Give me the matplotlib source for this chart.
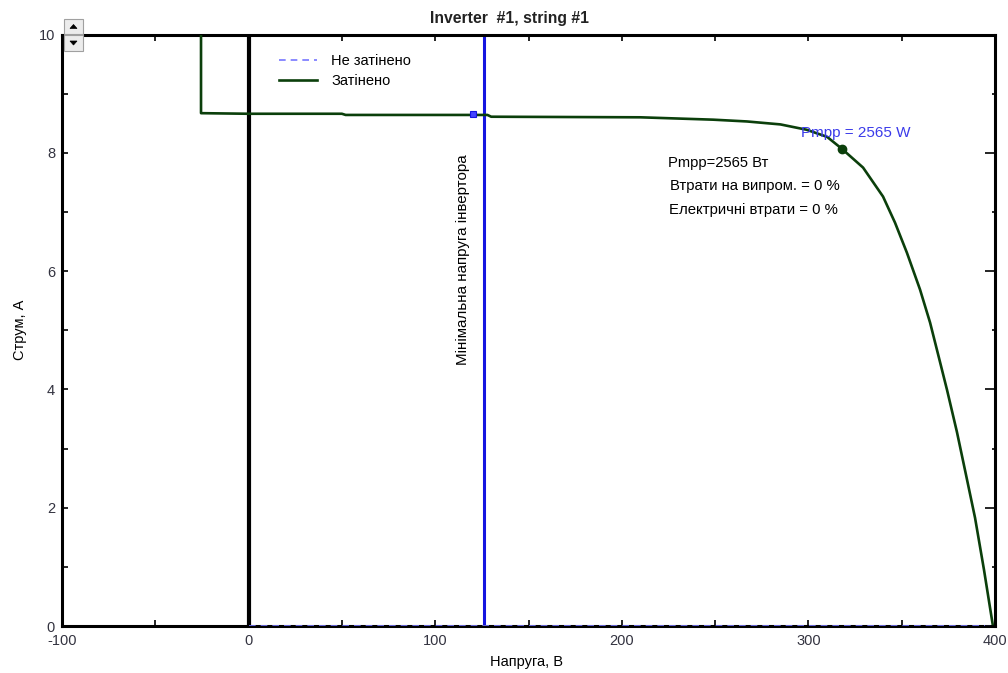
import matplotlib
matplotlib.use("Agg")
import matplotlib.pyplot as plt
from matplotlib.patches import Rectangle, Polygon
from matplotlib.ticker import MultipleLocator

plt.rcParams['font.family'] = ['Liberation Sans', 'DejaVu Sans']
plt.rcParams['axes.unicode_minus'] = False

# I-V curve of the shaded string
v_shaded = [-25.5, -25.5, 0, 50, 52, 128, 130, 210, 249, 267, 285, 299, 310,
            318, 329.3, 340, 346.4, 352.8, 359.8, 365.2, 370.0, 374.3, 379.6,
            384.5, 389.3, 394.1, 398.9]
i_shaded = [10.5, 8.67, 8.66, 8.66, 8.64, 8.64, 8.61, 8.60, 8.56, 8.53, 8.48, 8.39, 8.27,
            8.066, 7.75, 7.26, 6.82, 6.31, 5.69, 5.13, 4.53, 3.99, 3.28,
            2.55, 1.83, 0.95, 0.0]

# Unshaded curve (collapsed onto zero current)
v_unshaded = [0, 400]
i_unshaded = [0, 0]

# Maximum power point
p_mpp = 2565
v_mpp = 318
i_mpp = p_mpp / v_mpp

# Operating point at the inverter's minimum voltage
v_op = 120
i_op = 8.66
v_inv_min = 126

loss_mismatch = 0
loss_electric = 0

x_range = (-100, 400)
y_range = (0, 10)
x_ticks = [-100, 0, 100, 200, 300, 400]
y_ticks = [0, 2, 4, 6, 8, 10]

W, H = 1008, 673
fig = plt.figure(figsize=(W / 100, H / 100), dpi=100)
ax = fig.add_axes([62 / W, 1 - 626 / H, (995 - 62) / W, (626 - 34.5) / H])

green = '#0b3f0b'
blue = '#1515e0'
tick_col = '#333340'

ax.plot(v_unshaded, i_unshaded, color='#7777ff', lw=1.2, ls=(0, (4, 3)),
        label='Не затінено', zorder=4)
ax.plot(v_shaded, i_shaded, color=green, lw=1.9, label='Затінено', zorder=3)
ax.axvline(0, color='black', lw=3.0, zorder=2)
ax.axvline(v_inv_min, color=blue, lw=2.2, zorder=2)
ax.plot([v_op], [i_op], marker='s', ms=4, mfc='#4444ff', mec=blue, mew=0.8,
        ls='none', zorder=5)
ax.plot([v_mpp], [i_mpp], marker='o', ms=6, color=green, ls='none', zorder=5)

ax.set_xlim(*x_range)
ax.set_ylim(*y_range)
ax.set_xticks(x_ticks)
ax.set_yticks(y_ticks)
ax.xaxis.set_minor_locator(MultipleLocator(50))
ax.yaxis.set_minor_locator(MultipleLocator(1))
ax.tick_params(which='both', direction='in', top=True, right=False,
               labelsize=10.5, labelcolor=tick_col, width=1.2, color='black')
ax.tick_params(which='major', length=4)
ax.tick_params(which='minor', length=4)
ax.tick_params(axis='x', which='major', pad=6)
ax.tick_params(axis='y', which='major', pad=5)
for s in ax.spines.values():
    s.set_linewidth(2.2)

# Right-hand tick marks
ax2 = ax.twinx()
ax2.set_ylim(*y_range)
ax2.set_yticks(y_ticks)
ax2.yaxis.set_minor_locator(MultipleLocator(1))
ax2.tick_params(which='both', direction='in', labelright=False, width=1.2)
ax2.tick_params(which='major', length=7)
ax2.tick_params(which='minor', length=2.5)
for s in ax2.spines.values():
    s.set_visible(False)

ax.set_xlabel('Напруга, В', fontsize=10.5)
ax.xaxis.set_label_coords((527 - 62) / (995 - 62), -(655 - 626) / 591.5)
ax.set_ylabel('Струм, А', fontsize=10.5)
ax.yaxis.set_label_coords(-(62 - 27) / (995 - 62), (626 - 330) / 591.5)
fig.text(509 / W, 1 - 18 / H, 'Inverter  #1, string #1', ha='center', va='center',
         fontsize=11.3, fontweight='bold', color='#222222')

leg = ax.legend(loc='upper left',
                bbox_to_anchor=((273 - 62) / (995 - 62), 1 - (48 - 34.5) / 591.5),
                frameon=False, fontsize=10.5, handlelength=2.6, handletextpad=1.0,
                labelspacing=0.45, borderaxespad=0)

ax.text(v_mpp - 22, i_mpp + 0.27, f'Pmpp = {p_mpp} W', color='#3b3bea', fontsize=11,
        ha='left', va='center', zorder=6)
ax.text(0.650, (626 - 163) / 591.5, f'Pmpp={p_mpp} Вт', transform=ax.transAxes,
        fontsize=10.6, ha='left', va='center')
ax.text(0.652, (626 - 186) / 591.5, f'Втрати на випром. = {loss_mismatch} %',
        transform=ax.transAxes, fontsize=10.7, ha='left', va='center')
ax.text(0.651, (626 - 210) / 591.5, f'Електричні втрати = {loss_electric} %',
        transform=ax.transAxes, fontsize=10.7, ha='left', va='center')
ax.text(v_inv_min - 11, 6.2, 'Мінімальна напруга інвертора', rotation=90,
        fontsize=10.9, ha='center', va='center')

# Spin buttons in the top-left corner
def px(x, y):
    return (x / W, 1 - y / H)

for (y0, y1, up) in [(19, 34, True), (35, 51, False)]:
    x0, x1 = 64, 83
    fig.add_artist(Rectangle(px(x0, y1), (x1 - x0) / W, (y1 - y0) / H,
                             transform=fig.transFigure, facecolor='#ececec',
                             edgecolor='#a0a0a0', lw=0.8, zorder=10))
    cx, cy = (x0 + x1) / 2, (y0 + y1) / 2
    if up:
        tri = [px(cx - 3.5, cy + 2), px(cx + 3.5, cy + 2), px(cx, cy - 2)]
    else:
        tri = [px(cx - 3.5, cy - 2), px(cx + 3.5, cy - 2), px(cx, cy + 2)]
    fig.add_artist(Polygon(tri, closed=True, transform=fig.transFigure,
                           facecolor='black', edgecolor='black', lw=0.5, zorder=11))

fig.savefig('out.png', dpi=100)
